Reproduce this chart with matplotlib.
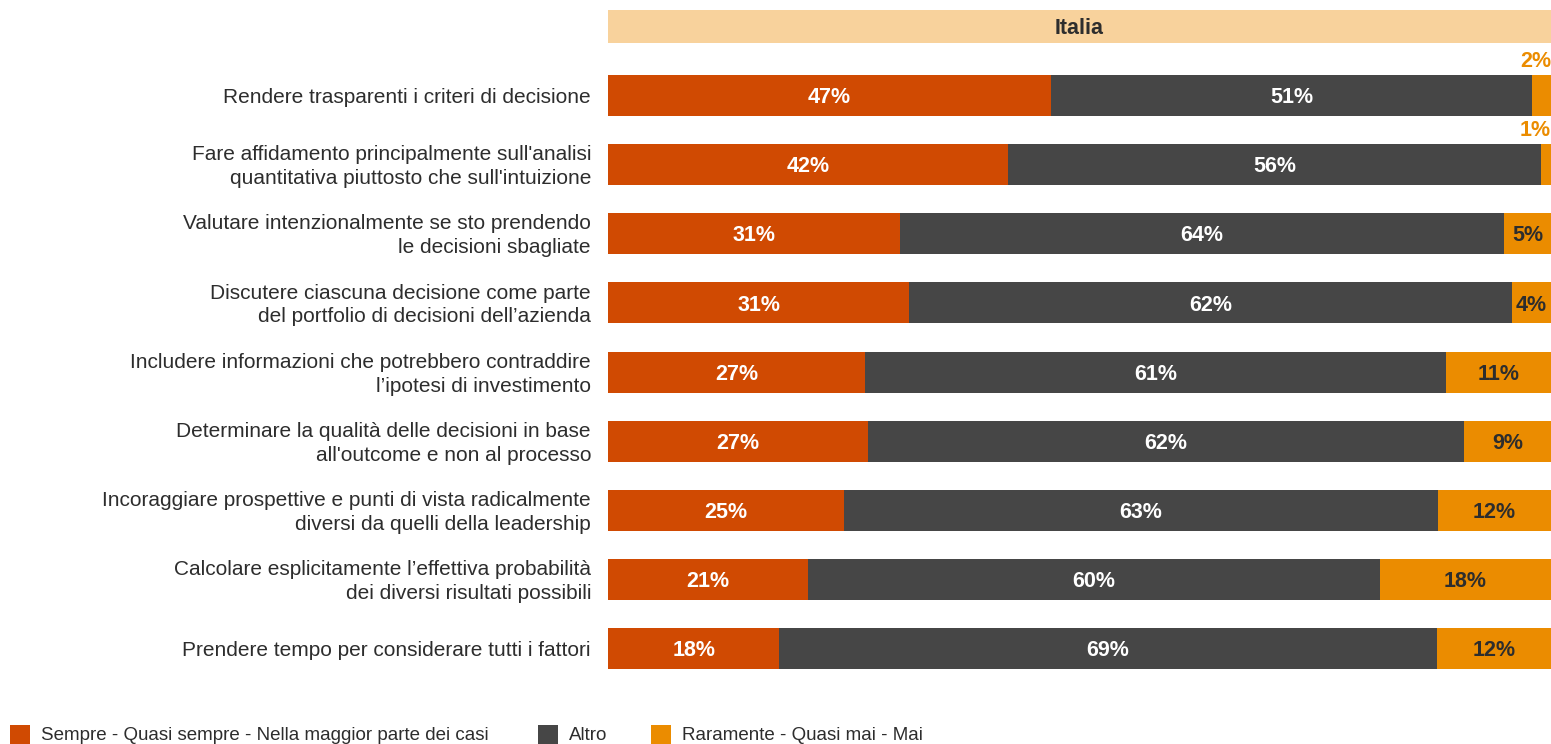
import numpy as np
import matplotlib
matplotlib.use("Agg")
import matplotlib.pyplot as plt
from matplotlib.patches import Rectangle

plt.rcParams['font.family'] = ['Liberation Sans', 'DejaVu Sans']

categories = [
    "Rendere trasparenti i criteri di decisione",
    "Fare affidamento principalmente sull'analisi\nquantitativa piuttosto che sull'intuizione",
    "Valutare intenzionalmente se sto prendendo\nle decisioni sbagliate",
    "Discutere ciascuna decisione come parte\ndel portfolio di decisioni dell\u2019azienda",
    "Includere informazioni che potrebbero contraddire\nl\u2019ipotesi di investimento",
    "Determinare la qualit\u00e0 delle decisioni in base\nall'outcome e non al processo",
    "Incoraggiare prospettive e punti di vista radicalmente\ndiversi da quelli della leadership",
    "Calcolare esplicitamente l\u2019effettiva probabilit\u00e0\ndei diversi risultati possibili",
    "Prendere tempo per considerare tutti i fattori",
]
sempre = [47, 42, 31, 31, 27, 27, 25, 21, 18]
altro = [51, 56, 64, 62, 61, 62, 63, 60, 69]
raramente = [2, 1, 5, 4, 11, 9, 12, 18, 12]

series_names = ["Sempre - Quasi sempre - Nella maggior parte dei casi", "Altro",
                "Raramente - Quasi mai - Mai"]
colors = ["#D04A02", "#464646", "#EB8C00"]
header_color = "#F8D29C"
header_text = "Italia"
txt_dark = "#2D2D2D"

W, H = 1551, 744
fig = plt.figure(figsize=(W / 100, H / 100), dpi=100)
ax = fig.add_axes([608 / W, (H - 669) / H, 943 / W, 659 / H])

bar_h = 0.593
pct_size = 15.5
dy = 0.03  # nudge labels to the optical centre of the bar
y = np.arange(len(categories))
data = np.array([sempre, altro, raramente], dtype=float)
totals = data.sum(axis=0)
shares = data / totals * 100  # each row fills the full width

left = np.zeros(len(categories))
for k in range(3):
    ax.barh(y, shares[k], left=left, height=bar_h, color=colors[k], linewidth=0)
    for i in range(len(categories)):
        val = data[k, i]
        cx = left[i] + shares[k, i] / 2
        if k < 2:
            ax.text(cx, y[i] + dy, f"{val:.0f}%", ha="center", va="center", color="white",
                    fontsize=pct_size, fontweight="bold")
        elif val >= 4:
            ax.text(cx, y[i] + dy, f"{val:.0f}%", ha="center", va="center", color=txt_dark,
                    fontsize=pct_size, fontweight="bold")
        else:
            # too thin to hold the label, put it above the bar end
            ax.text(100, y[i] - bar_h / 2 - 0.05, f"{val:.0f}%", ha="right", va="bottom",
                    color=colors[2], fontsize=pct_size, fontweight="bold")
    left += shares[k]

# header band
ax.add_patch(Rectangle((0, -1 - 0.2385), 100, 0.477, color=header_color, linewidth=0,
                       clip_on=False))
ax.text(50, -1 + dy, header_text, ha="center", va="center", fontsize=pct_size,
        fontweight="bold", color=txt_dark)

ax.set_xlim(0, 100)
ax.set_ylim(8 + bar_h / 2, -1.2385)
ax.axis("off")

for i, c in enumerate(categories):
    ax.text(-17 / 943 * 100, y[i] + dy, c, ha="right", va="center", fontsize=15,
            color=txt_dark, linespacing=1.32)

# legend along the bottom edge
leg_x = [10, 538, 651]
for (x0, name, col) in zip(leg_x, series_names, colors):
    fig.patches.append(Rectangle((x0 / W, 0), 20 / W, 19 / H, color=col, linewidth=0,
                                 transform=fig.transFigure, figure=fig))
    fig.text((x0 + 31) / W, 8 / H, name, ha="left", va="center", fontsize=13.5,
             color=txt_dark)

fig.savefig("out.png", dpi=100)
